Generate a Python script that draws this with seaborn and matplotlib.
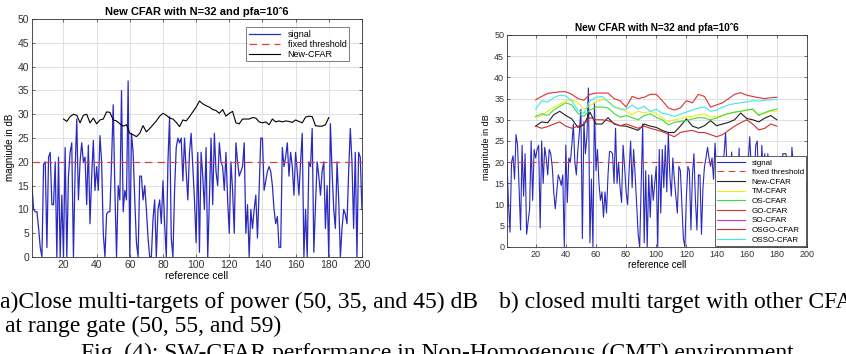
import numpy as np
import pandas as pd
import seaborn as sns
import matplotlib.pyplot as plt
from matplotlib.lines import Line2D

# ---- (a) signal + fixed threshold + New-CFAR ----
cells = np.arange(1, 201)
signal_a = [15, 10, 9.5, 9.5, 6, 2, 0, 19.5, 20, 2, 21, 22, 11, 11, 20, 0, 21, 0, 13, 0,
            23, 0, 17, 22, 24, 0, 18, 29, 12, 20, 24, 20, 21, 11, 23.5, 7, 17, 24.5, 14, 19,
            14, 25.5, 20, 5, 0, 9, 9.5, 9.5, 20, 32, 14, 0, 15, 12, 35, 9.5, 14, 12, 37, 0,
            26, 22, 12, 3, 0, 17, 17, 12, 15, 10, 4, 0, 0, 8, 12, 0, 10, 12, 7, 16,
            7, 0, 20, 29.5, 4, 0, 14, 23, 25, 24, 25, 16, 25, 18, 12, 22, 26, 19, 12, 3,
            22, 1, 22, 17, 10, 23, 0, 12, 25, 11, 26, 18, 15, 24, 20, 19, 14, 22, 12, 5,
            20, 14, 5, 24, 20, 17, 18, 19, 24, 5, 11, 0, 10, 6, 10, 13, 4, 14, 25, 25,
            14, 16, 18, 19, 18, 15, 10, 7, 8.5, 2, 2, 23, 19, 21, 24, 17, 22, 19, 13, 22,
            18, 13, 20, 26, 0, 10, 0, 20, 19, 27, 1, 11, 20, 17, 13, 18, 20, 6, 15, 0,
            28, 18, 10, 6, 20, 12, 0, 6, 10, 9, 7, 18, 27, 20, 6, 22, 0, 22, 21, 10]
cfar_a_cells = np.arange(20, 181, 2)
new_cfar_a = [29, 28.5, 29.5, 30, 29.8, 28.2, 29.8, 30, 28.2, 29.2, 28, 28.8, 29, 30.5, 30.4,
              28.8, 28.6, 28, 27.5, 27.8, 26, 25.7, 25.3, 26, 27.6, 26.3, 27, 27.8, 28.6, 29.6,
              30.2, 29.8, 29.2, 29, 28.3, 27.4, 28.8, 28.6, 29.5, 30.5, 31.5, 32.8, 32.2, 31.8,
              31.5, 31, 30.8, 30.2, 31, 29.6, 30.2, 30.6, 28.2, 28, 29, 29, 29, 29.3, 29.2,
              28.4, 28.2, 28.4, 27.8, 29, 28.4, 28.6, 28.4, 28.6, 28.5, 28.3, 28.8, 28.5, 28.2,
              29.4, 29.6, 29.5, 27.6, 27.5, 27.5, 27.8, 29.3]

# ---- (b) signal + all CFAR variants ----
signal_b = [20, 10, 3.5, 20, 21.5, 16, 26.5, 24, 14, 4, 24, 12, 22, 3, 6, 9, 25, 11, 23, 21,
            23, 24, 4.5, 25, 15, 23.5, 21, 17, 23, 22, 19, 13, 9, 13, 17, 16, 14.5, 17, 0, 24,
            10.5, 21, 20, 24, 29, 20, 17, 23, 27, 32.5, 2, 29.5, 22, 26, 37.5, 1, 16, 0, 34, 18,
            23, 15, 11, 13, 7, 13, 8, 17, 22.5, 22.5, 22, 15, 28, 15, 20, 14, 10.5, 24, 19, 13,
            10, 18, 25, 14, 23, 17, 10, 3, 0, 15, 29, 1, 18, 0, 17, 7, 17, 11, 15, 19,
            0, 23, 8, 23, 14, 24, 13, 27, 17, 12, 21, 16, 12, 8, 19, 18, 10, 2, 0, 12,
            19, 18, 4, 17, 22, 11, 4, 17, 17, 3, 14, 19, 21, 23.5, 21, 19, 21, 16, 24.5, 18,
            12, 20, 15, 19, 22, 27, 18, 10, 14, 22.4, 16, 8, 0, 14, 23.3, 3, 12, 17, 10, 14,
            20, 26, 19, 12, 16, 24, 25, 14, 9, 24, 17, 22, 12, 22, 15, 18, 21, 19, 10, 16,
            20, 14, 18, 22, 22, 22, 20, 15, 12, 23.5, 19, 14, 17, 11, 16, 13, 9, 18, 12, 15]
cfar_b_cells = np.arange(20, 181, 4)
go_cfar = [34.7, 35.5, 36.2, 36.4, 36.6, 36.6, 36, 35, 34.6, 36, 36.3, 36.3, 36.3, 35, 34.5,
           33, 35.5, 35, 35.3, 36, 36, 34.5, 32.8, 32.3, 32.8, 34.5, 34, 36, 35.5, 33, 33.5,
           34, 35, 36, 36.4, 35.8, 35.5, 35.2, 35, 35.2, 35.3]
osso_cfar = [32.5, 34.5, 34.2, 35.2, 35.8, 35.6, 34.5, 32.2, 31.5, 34.5, 35.3, 35.5, 34.3, 33,
             32.5, 32.5, 33.5, 32.5, 33.2, 32, 32.5, 31.5, 31.3, 30.8, 31.3, 31.8, 32.3, 32.8,
             33, 32, 32.3, 33, 33.5, 33.8, 34, 34.2, 34.5, 34.4, 34.6, 34.7, 34.8]
tm_cfar = [30.5, 31, 32, 33, 33.7, 34.5, 34.7, 34, 32.5, 33.3, 34.2, 34.8, 34.5, 33.2, 32.7,
           32, 31.2, 32, 31.6, 32, 31.5, 30.5, 29.5, 30, 30.3, 30.6, 30.8, 31.2, 31.4, 30.6,
           30.8, 31, 31.4, 31.8, 32, 32.3, 32.5, 31.2, 31.5, 32, 32]
os_cfar = [30.8, 31.4, 31, 32.3, 33.2, 34, 33.5, 31.5, 30.8, 32.3, 33, 33, 32.8, 31.5, 30.6,
           31, 30.5, 30, 31, 31.4, 30.6, 30, 28.8, 29.4, 29.6, 29.8, 30.2, 30.5, 30.4, 30,
           30.4, 31, 31.5, 31.8, 32, 32.3, 32.5, 31, 31.7, 32.2, 32.5]
new_cfar_b = [28.5, 29.5, 29.3, 31.2, 32, 31, 30.2, 28.2, 28.8, 31.8, 29, 29, 30.5, 29, 28.6,
              28.5, 28, 27.5, 29, 28.5, 28.2, 27.5, 27, 27, 28.5, 30.2, 28.5, 28, 28.6, 29.8,
              28.6, 29, 29.4, 30, 31.6, 30.3, 30, 29.5, 30.4, 31, 30]
osgo_cfar = [28.5, 28, 28.4, 29, 29.5, 28.5, 28, 28.5, 29, 30.5, 30, 30, 29.8, 29.2, 28.6,
             29, 28.5, 28, 28.5, 28, 27.6, 27.2, 26.6, 26, 27, 27.3, 27.5, 27, 27, 26.5, 26,
             26.5, 27.5, 28.5, 29.3, 30, 29, 27.6, 28, 29, 28.5]
threshold = 20

title = "New CFAR with N=32 and pfa=10ˆ6"
blue = "#2a2ac0"
thr_red = "#d8404a"

plt.rcParams['font.family'] = ['Liberation Sans', 'DejaVu Sans']
fig = plt.figure(figsize=(8.46, 3.54), dpi=100, facecolor='white')
ax_a = fig.add_axes([0.0378, 0.274, 0.390, 0.672])
ax_b = fig.add_axes([0.5993, 0.3023, 0.3546, 0.5989])


def style_axes(ax, fs):
    ax.set_xlim(1, 200)
    ax.set_ylim(0, 50)
    ax.set_xticks(np.arange(20, 201, 20))
    ax.set_yticks(np.arange(0, 51, 5))
    ax.grid(True, color='#dcdcdc', linewidth=0.6)
    ax.set_axisbelow(True)
    ax.tick_params(direction='in', top=True, right=True, labelsize=fs,
                   length=2.5, width=0.5, colors='#333333', pad=2)
    for s in ax.spines.values():
        s.set_color('#333333')
        s.set_linewidth(0.6)


# (a)
sns.lineplot(x=cells, y=signal_a, ax=ax_a, color=blue, linewidth=0.9, label='signal')
sns.lineplot(x=cells, y=[threshold] * len(cells), ax=ax_a, color=thr_red, linewidth=0.9,
             label='fixed threshold')
ax_a.lines[-1].set_dashes((6, 4))
sns.lineplot(x=cfar_a_cells, y=new_cfar_a, ax=ax_a, color='black', linewidth=0.8,
             label='New-CFAR')
style_axes(ax_a, 7.5)
ax_a.set_title(title, fontsize=8, fontweight='bold', pad=3)
ax_a.set_ylabel('magniude in dB', fontsize=7)
ax_a.yaxis.set_label_coords(-0.05, 0.46)
ax_a.set_xlabel('reference cell', fontsize=7.5, labelpad=1)
leg = ax_a.legend(loc='upper right', fontsize=6.5, frameon=True, fancybox=False,
                  edgecolor='#444444', borderpad=0.3, handlelength=3.5, labelspacing=0.1,
                  bbox_to_anchor=(0.975, 0.985))
leg.get_frame().set_linewidth(0.6)

# (b)
sns.lineplot(x=cells, y=signal_b, ax=ax_b, color=blue, linewidth=0.8, label='signal')
sns.lineplot(x=cells, y=[threshold] * len(cells), ax=ax_b, color=thr_red, linewidth=0.8,
             label='fixed threshold')
ax_b.lines[-1].set_dashes((6, 4))
series_b = [
    ('New-CFAR', new_cfar_b, '#202020'),
    ('TM-CFAR', tm_cfar, '#eeee10'),
    ('OS-CFAR', os_cfar, '#40d840'),
    ('GO-CFAR', go_cfar, '#e03030'),
    ('OSGO-CFAR', osgo_cfar, '#c83030'),
    ('OSSO-CFAR', osso_cfar, '#40e8e8'),
]
for name, vals, col in series_b:
    sns.lineplot(x=cfar_b_cells, y=vals, ax=ax_b, color=col, linewidth=0.8, label=name)
style_axes(ax_b, 6.5)
ax_b.set_title(title, fontsize=7.2, fontweight='bold', pad=3)
ax_b.set_ylabel('magnitude in dB', fontsize=6.5)
ax_b.yaxis.set_label_coords(-0.055, 0.47)
ax_b.set_xlabel('reference cell', fontsize=7, labelpad=1)

handles, labels = ax_b.get_legend_handles_labels()
order = ['signal', 'fixed threshold', 'New-CFAR', 'TM-CFAR', 'OS-CFAR', 'GO-CFAR',
         'SO-CFAR', 'OSGO-CFAR', 'OSSO-CFAR']
hmap = dict(zip(labels, handles))
hmap['SO-CFAR'] = Line2D([], [], color='#d030d0', linewidth=0.8)
leg_b = ax_b.legend([hmap[k] for k in order], order, loc='lower right', fontsize=5.8,
                    frameon=True, fancybox=False, edgecolor='#444444', framealpha=1,
                    borderpad=0.3, handlelength=3.5, labelspacing=0.25,
                    bbox_to_anchor=(1.0, 0.0), borderaxespad=0.1)
leg_b.get_frame().set_linewidth(0.6)

# captions
serif = ['Liberation Serif', 'DejaVu Serif']
cap_fs = 17
fig.text(0.0, 1 - 302 / 354, 'a)Close multi-targets of power (50, 35, and 45) dB',
         fontsize=cap_fs, family=serif, va='center', ha='left')
fig.text(499 / 846, 1 - 302 / 354, 'b) closed multi target with other CFAR',
         fontsize=cap_fs, family=serif, va='center', ha='left')
fig.text(5 / 846, 1 - 326 / 354, 'at range gate (50, 55, and 59)',
         fontsize=cap_fs, family=serif, va='center', ha='left')
fig.text(81 / 846, 1 - 353 / 354, 'Fig. (4): SW-CFAR performance in Non-Homogenous (CMT) environment',
         fontsize=cap_fs, family=serif, va='center', ha='left')

fig.savefig('out.png', dpi=100)
